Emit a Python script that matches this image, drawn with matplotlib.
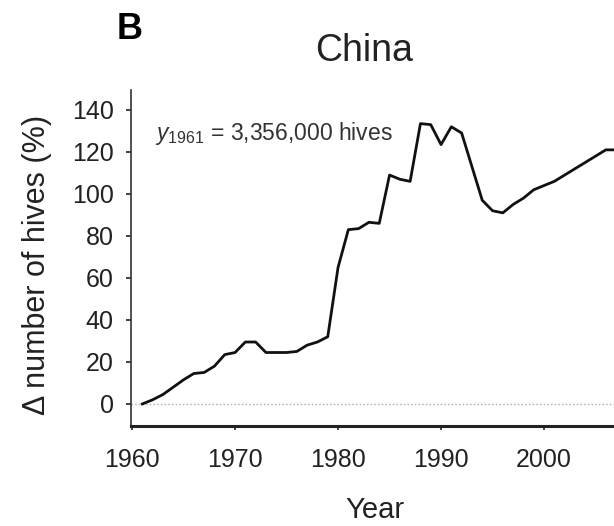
import numpy as np
import matplotlib
matplotlib.use('Agg')
from matplotlib import pyplot as plt

plt.rcParams['font.family'] = ['Liberation Sans', 'DejaVu Sans']
plt.rcParams['mathtext.fontset'] = 'custom'
plt.rcParams['mathtext.rm'] = 'Liberation Sans'
plt.rcParams['mathtext.it'] = 'Liberation Sans:italic'

# change in number of hives relative to 1961 (%)
years = np.arange(1961, 2008)
hives = [0, 2, 4.5, 8, 11.5, 14.5, 15, 18, 23.5, 24.5,
         29.5, 29.5, 24.5, 24.5, 24.5, 25, 28, 29.5, 32, 65,
         83, 83.5, 86.5, 86, 109, 107, 106, 133.5, 133, 123.5,
         132, 129, 113, 97, 92, 91, 95, 98, 102, 104,
         106, 109, 112, 115, 118, 121, 121]
xticks = [1960, 1970, 1980, 1990, 2000]
yticks = [0, 20, 40, 60, 80, 100, 120, 140]

fig = plt.figure(figsize=(6.14, 5.26), dpi=100)
ax = fig.add_axes([0.2134, 0.1901, 0.8404, 0.6388])

ax.axhline(0, color='#aaaaaa', lw=1, ls=':', zorder=1)
ax.plot(years, hives, color='#111111', lw=2, solid_joinstyle='round', zorder=3)

ax.set_xlim(1959.9, 2010)
ax.set_ylim(-10.5, 149.5)
ax.set_xticks(xticks)
ax.set_yticks(yticks)
ax.tick_params(axis='both', labelsize=18, colors='#222222', direction='out')
ax.tick_params(axis='y', length=3.5, width=1.2, pad=9)
ax.tick_params(axis='x', length=3, width=1.2, pad=13)

for s in ['top', 'right']:
    ax.spines[s].set_visible(False)
ax.spines['left'].set_linewidth(1.2)
ax.spines['left'].set_color('#333333')
ax.spines['bottom'].set_linewidth(2.2)
ax.spines['bottom'].set_color('#222222')

ax.text(1962.2, 129, r'$y_{1961}$ = 3,356,000 hives', fontsize=16.5,
        ha='left', va='center', color='#333333')

fig.text(0.2117, 0.943, 'B', fontsize=26, fontweight='bold', ha='center', va='center')
fig.text(0.593, 0.903, 'China', fontsize=27, ha='center', va='center', color='#222222')
fig.text(0.611, 0.030, 'Year', fontsize=21, ha='center', va='center', color='#222222')
fig.text(0.060, 0.496, '\u0394 number of hives (%)', fontsize=22, rotation=90,
         ha='center', va='center', color='#222222')

fig.savefig('out.png', dpi=100)
